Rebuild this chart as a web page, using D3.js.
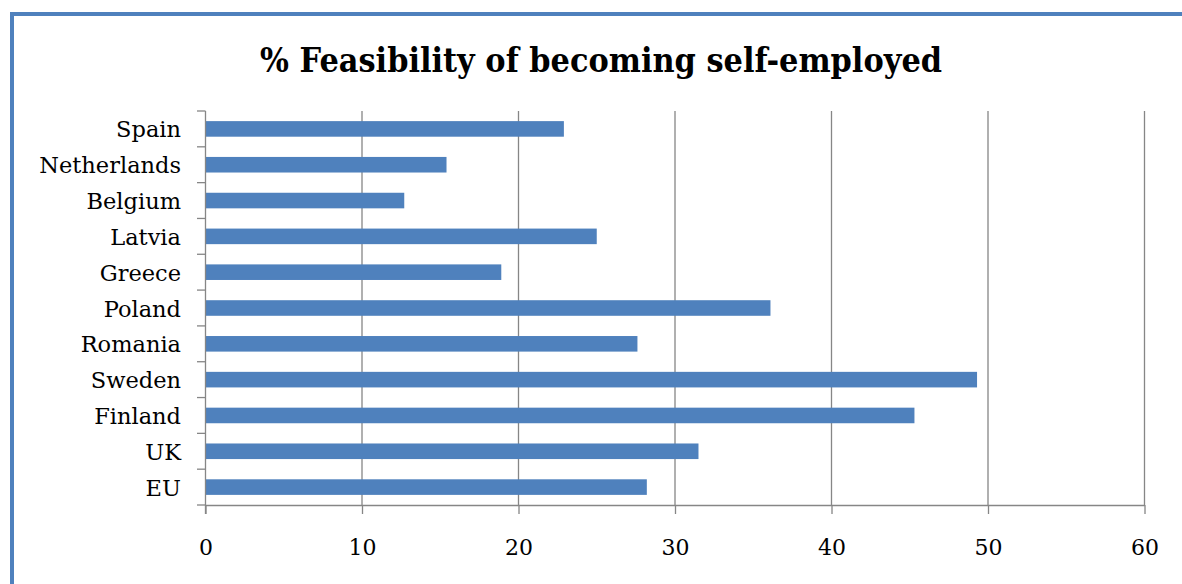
<!DOCTYPE html>
<html>
<head>
<meta charset="utf-8">
<script src="https://cdn.jsdelivr.net/npm/d3@7"></script>
<style>
  body { margin: 0; background: #fff; }
  svg { display: block; }
</style>
</head>
<body>
<div id="chart-area"></div>
<script>
// data (top to bottom)
const countries = ["Spain", "Netherlands", "Belgium", "Latvia", "Greece", "Poland", "Romania", "Sweden", "Finland", "UK", "EU"];
const feasibility = [22.9, 15.4, 12.7, 25.0, 18.9, 36.1, 27.6, 49.3, 45.3, 31.5, 28.2];
const xTicks = [0, 10, 20, 30, 40, 50, 60];
const title = "% Feasibility of becoming self-employed";

const canvas = { width: 1182, height: 584 };
const plot = { left: 205.5, right: 1144.5, top: 111, bottom: 505 };
const barColor = "#4F81BD", gridColor = "#868686";
const font = "'DejaVu Serif', 'Liberation Serif', serif";

const svg = d3.select("#chart-area").append("svg")
    .attr("width", canvas.width).attr("height", canvas.height);

// chart frame (only left and top edges show)
svg.append("rect").attr("x", 10).attr("y", 12).attr("width", 4).attr("height", canvas.height - 12).attr("fill", barColor);
svg.append("rect").attr("x", 10).attr("y", 12).attr("width", canvas.width - 10).attr("height", 4).attr("fill", barColor);

// title
svg.append("text")
    .attr("x", 601).attr("y", 72)
    .attr("text-anchor", "middle")
    .attr("font-family", font).attr("font-weight", "bold").attr("font-size", 33)
    .attr("textLength", 682).attr("lengthAdjust", "spacingAndGlyphs")
    .text(title);

// scales
const x = d3.scaleLinear().domain([0, 60]).range([plot.left, plot.right]);
const y = d3.scaleBand().domain(countries).range([plot.top, plot.bottom]).paddingInner(0.565).paddingOuter(0.2825);
const yEdge = d3.scaleLinear().domain([0, countries.length]).range([plot.top, plot.bottom]);

// vertical gridlines
svg.append("g").selectAll("line").data(xTicks.slice(1)).join("line")
    .attr("x1", d => x(d)).attr("x2", d => x(d))
    .attr("y1", plot.top).attr("y2", plot.bottom)
    .attr("stroke", gridColor).attr("stroke-width", 1.3);

// bars
svg.append("g").selectAll("rect").data(countries).join("rect")
    .attr("x", x(0))
    .attr("y", d => y(d))
    .attr("width", (d, i) => x(feasibility[i]) - x(0))
    .attr("height", y.bandwidth())
    .attr("fill", barColor);

// x axis
const xAxis = svg.append("g").attr("transform", "translate(0," + plot.bottom + ")")
    .call(d3.axisBottom(x).tickValues(xTicks).tickSize(9).tickPadding(25).tickSizeOuter(0));
xAxis.select(".domain").attr("stroke", gridColor).attr("stroke-width", 1.3);
xAxis.selectAll(".tick line").attr("stroke", gridColor).attr("stroke-width", 1.3);
xAxis.selectAll(".tick text").attr("font-family", font).attr("font-size", 22).attr("fill", "#000");

// y axis: line plus category boundary ticks
svg.append("line")
    .attr("x1", plot.left).attr("x2", plot.left)
    .attr("y1", plot.top).attr("y2", plot.bottom + 9)
    .attr("stroke", gridColor).attr("stroke-width", 1.3);
svg.append("g").selectAll("line").data(d3.range(countries.length + 1)).join("line")
    .attr("x1", plot.left - 8.5).attr("x2", plot.left)
    .attr("y1", d => yEdge(d)).attr("y2", d => yEdge(d))
    .attr("stroke", gridColor).attr("stroke-width", 1.3);

svg.append("g").selectAll("text").data(countries).join("text")
    .attr("x", 181)
    .attr("y", d => y(d) + y.bandwidth() / 2 + 8.5)
    .attr("text-anchor", "end")
    .attr("font-family", font).attr("font-size", 22.5)
    .text(d => d);
</script>
</body>
</html>
